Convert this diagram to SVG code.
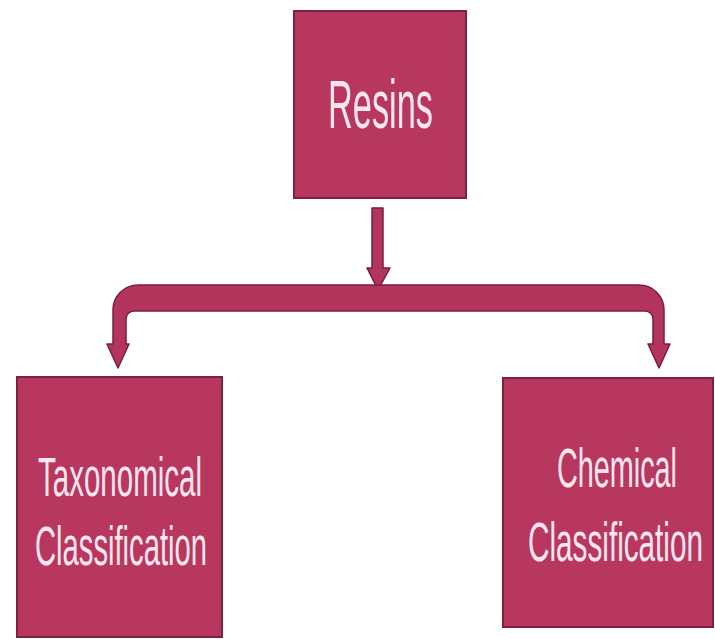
<svg xmlns="http://www.w3.org/2000/svg" width="715" height="639" viewBox="0 0 715 639">
<style>
.box{fill:#b8375f;stroke:#7e2140;stroke-width:2}
.lbl{font-family:"Liberation Sans",Arial,sans-serif;fill:#fbe6ef}
.sm{font-size:29px}
.arr{fill:#b3345d;stroke:#7a1e3e;stroke-width:1.5;stroke-linejoin:round}
</style>
<rect width="715" height="639" fill="#ffffff"/>
<g id="resins">
<rect class="box" x="294" y="11" width="172" height="187"/>
<text class="lbl" transform="translate(328,128) scale(1,1.97)" font-size="34.5" textLength="105" lengthAdjust="spacingAndGlyphs">Resins</text>
</g>
<g id="taxonomical">
<rect class="box" x="17" y="377" width="205" height="260"/>
<text class="lbl sm" transform="translate(38,496) scale(1,1.93)" textLength="164" lengthAdjust="spacingAndGlyphs">Taxonomical</text>
<text class="lbl sm" transform="translate(35,565) scale(1,1.93)" textLength="172" lengthAdjust="spacingAndGlyphs">Classification</text>
</g>
<g id="chemical">
<rect class="box" x="503" y="378" width="210" height="249"/>
<text class="lbl sm" transform="translate(557,487) scale(1,1.93)" textLength="120" lengthAdjust="spacingAndGlyphs">Chemical</text>
<text class="lbl sm" transform="translate(528,561) scale(1,1.93)" textLength="175" lengthAdjust="spacingAndGlyphs">Classification</text>
</g>
<g id="connectors">
<path class="arr" d="M372,208 H383 V268 H390 L378,290 L367,268 H372 Z"/>
<path class="arr" d="M138,285 H638 A25,25 0 0 1 664,310 V344 H670 L659,368 L648,344 H653 V319 A8,8 0 0 0 645,311 H134 A8,8 0 0 0 126,319 V344 H129 L118,368 L107,344 H113 V310 A25,25 0 0 1 138,285 Z"/>
</g>
</svg>
